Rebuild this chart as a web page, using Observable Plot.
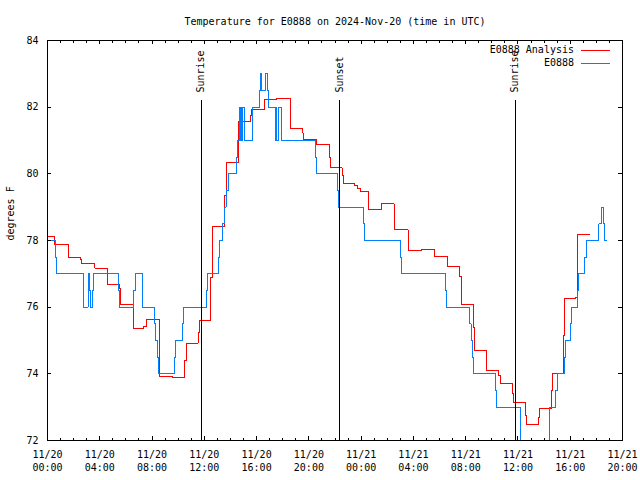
<!DOCTYPE html>
<html><head><meta charset="utf-8">
<script src="https://cdn.jsdelivr.net/npm/d3@7"></script>
<script src="https://cdn.jsdelivr.net/npm/@observablehq/plot@0.6"></script>
<style>
body{margin:0;background:#fff}
#wrap{position:relative;width:640px;height:480px;font-family:"DejaVu Sans Mono",monospace;font-size:10px;color:#000}
#wrap svg{position:absolute;left:0;top:0}
.lt{position:absolute;right:66px;line-height:13px;white-space:pre;text-align:right}
.ls{position:absolute;left:581px;width:29px;height:1px}
</style></head><body><div id="wrap"></div>
<script>
// time axis: hours since 2024-11-20 00:00 UTC
const startUTC = "2024-11-20T00:00:00Z";
const endUTC = "2024-11-21T20:00:00Z";

const analysisHours = [0.00,0.57,1.61,2.56,2.62,3.63,4.59,5.51,5.59,6.58,7.35,7.58,8.57,9.57,10.52,10.61,11.52,11.61,12.51,12.63,13.51,13.66,14.59,14.64,15.57,15.63,16.61,17.56,18.56,18.63,19.55,19.61,20.60,21.58,21.66,22.54,22.63,23.53,23.72,23.95,24.56,25.54,26.52,26.58,27.59,27.65,28.62,29.64,30.63,31.53,31.66,32.60,32.65,33.57,33.62,34.54,34.63,35.58,35.64,36.58,36.64,37.57,37.65,38.55,38.61,39.52,39.59,40.44,40.52,40.58,41.50];
const analysisTemps = [78.13,77.87,77.5,77.42,77.32,77.17,76.67,76.55,76.09,75.35,75.42,75.62,73.92,73.88,74.4,74.92,75.25,75.6,76.9,78.42,79.35,80.33,81.0,81.57,81.75,81.93,82.22,82.27,81.82,81.35,81.22,81.03,80.87,80.5,80.18,79.95,79.7,79.65,79.57,79.47,78.92,79.1,78.55,78.32,78.15,77.7,77.73,77.52,77.22,76.92,76.08,75.4,74.7,74.4,74.1,73.95,73.72,73.42,73.13,72.75,72.47,72.7,72.95,73.5,74.02,75.15,76.25,76.3,77.25,78.17,78.17];

const stationHours = [0.00,0.64,0.71,2.73,2.78,3.10,3.16,3.21,3.29,3.48,3.54,5.46,5.53,6.60,6.71,7.25,7.29,8.21,8.30,8.44,8.52,9.74,9.82,10.31,10.37,12.14,12.22,13.12,13.19,13.41,13.51,13.66,13.87,14.46,14.52,14.72,14.79,14.82,14.87,14.90,15.11,15.71,16.20,16.30,16.40,16.68,16.84,16.91,17.41,17.49,17.56,17.70,17.88,20.51,20.59,22.22,22.29,24.20,24.28,27.01,27.09,30.48,30.56,32.32,32.41,32.52,32.62,34.28,34.38,36.23,38.44,38.91,38.99,39.59,39.66,40.05,40.10,40.56,40.66,41.12,41.22,42.20,42.42,42.51,42.62,42.75];
const stationTemps = [78.0,77.5,77.0,76.5,76.0,76.5,77.0,76.5,76.0,76.5,77.0,76.5,76.0,76.5,77.0,76.5,76.0,75.5,75.0,74.5,74.0,74.5,75.0,75.5,76.0,76.5,77.0,77.5,78.0,78.5,79.0,79.5,80.0,80.5,81.0,82.0,81.0,82.0,81.0,82.0,81.0,82.0,82.5,83.0,82.5,83.0,82.5,82.0,81.0,82.0,81.0,82.0,81.0,80.5,80.0,79.5,79.0,78.5,78.0,77.5,77.0,76.5,76.0,75.5,75.0,74.5,74.0,73.5,73.0,71.5,73.0,73.5,74.0,74.5,75.0,75.5,76.0,76.5,77.0,77.5,78.0,78.5,79.0,78.5,78.0,78.0];

const sunNames = ["Sunrise","Sunset","Sunrise"];
const sunTimes = ["2024-11-20T11:46:00Z","2024-11-20T22:21:00Z","2024-11-21T11:47:00Z"];

const yTicks = [72,74,76,78,80,82,84];
const seriesNames = ["E0888 Analysis","E0888"];
const seriesColors = ["#ff0000","#0080ff"];
const titleText = "Temperature for E0888 on 2024-Nov-20 (time in UTC)";
const yLabel = "degrees F";

const W=640,H=480,mL=47,mR=18,mT=40,mB=40;
const plotW=W-mL-mR, plotH=H-mT-mB;
const MAJ=4, MIN=2.5;
const x0=new Date(startUTC), x1=new Date(endUTC);
const toDate=h=>new Date(x0.getTime()+h*3600e3);
const analysis=analysisHours.map((h,i)=>({t:toDate(h),v:analysisTemps[i]}));
const station=stationHours.map((h,i)=>({t:toDate(h),v:stationTemps[i]}));
const sun=sunNames.map((n,i)=>({name:n,t:new Date(sunTimes[i])}));
const yMin=yTicks[0], yMax=yTicks[yTicks.length-1];
const majorX=d3.utcHour.every(4).range(x0,new Date(+x1+1));
const minorX=d3.utcHour.range(x0,new Date(+x1+1));
const fmt=d3.utcFormat("%m/%d\n%H:%M");

const chart=Plot.plot({
  width:W,height:H,marginLeft:mL,marginRight:mR,marginTop:mT,marginBottom:mB,
  style:"font-family:'DejaVu Sans Mono',monospace;font-size:10px;background:#fff;color:#000;shape-rendering:crispEdges;",
  x:{type:"utc",domain:[x0,x1],label:null},
  y:{domain:[yMin,yMax],label:null},
  marks:[
    Plot.line(analysis,{x:"t",y:"v",stroke:seriesColors[0],strokeWidth:1,curve:"step-after",clip:true}),
    Plot.line(station,{x:"t",y:"v",stroke:seriesColors[1],strokeWidth:1,curve:"step-after",clip:true}),
    Plot.ruleX(sun,{x:"t",y1:yMin,y2:yMin+0.85*(yMax-yMin),stroke:"#000"}),
    Plot.text(sun,{x:"t",y:yMin+0.87*(yMax-yMin),text:"name",rotate:-90,textAnchor:"start",fill:"#000"}),
    Plot.tickY(yTicks,{y:d=>d,insetRight:plotW-MAJ,stroke:"#000"}),
    Plot.tickY(yTicks,{y:d=>d,insetLeft:plotW-MAJ,stroke:"#000"}),
    Plot.tickX(majorX,{x:d=>d,insetTop:plotH-MAJ,stroke:"#000"}),
    Plot.tickX(majorX,{x:d=>d,insetBottom:plotH-MAJ,stroke:"#000"}),
    Plot.tickX(minorX,{x:d=>d,insetTop:plotH-MIN,stroke:"#000"}),
    Plot.tickX(minorX,{x:d=>d,insetBottom:plotH-MIN,stroke:"#000"}),
    Plot.axisX(majorX,{tickSize:0,tickPadding:8,tickFormat:fmt,lineHeight:1.3,label:null}),
    Plot.axisY(yTicks,{tickSize:0,tickPadding:9,label:null}),
    Plot.text([yLabel],{frameAnchor:"left",dx:-37,rotate:-90,fill:"#000"}),
    Plot.text([titleText],{frameAnchor:"top",dy:-23,fill:"#000"}),
    Plot.frame({stroke:"#000"})
  ]
});
const wrap=document.getElementById("wrap");
wrap.appendChild(chart);
seriesNames.forEach((n,i)=>{
  const t=document.createElement("div");
  t.className="lt"; t.textContent=n; t.style.top=(43+13*i)+"px";
  wrap.appendChild(t);
  const s=document.createElement("div");
  s.className="ls"; s.style.background=seriesColors[i]; s.style.top=(50+13*i)+"px";
  wrap.appendChild(s);
});
</script></body></html>
